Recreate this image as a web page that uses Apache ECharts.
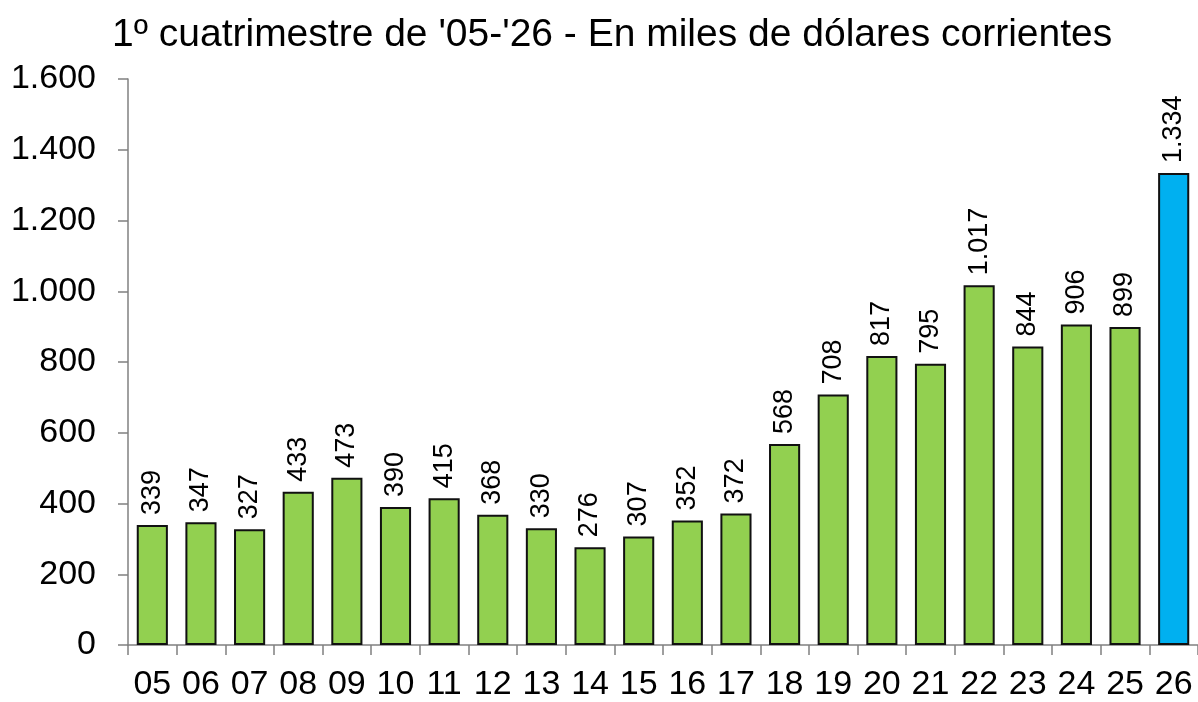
<!DOCTYPE html>
<html>
<head>
<meta charset="utf-8">
<script src="https://cdn.jsdelivr.net/npm/echarts@6/dist/echarts.min.js"></script>
<style>
  html, body { margin: 0; padding: 0; background: #fff; }
  #myChart { width: 1198px; height: 702px; }
</style>
</head>
<body>
<div id="myChart"></div>
<script>
// datos del 1º cuatrimestre
const years = ['05', '06', '07', '08', '09', '10', '11', '12', '13', '14', '15',
  '16', '17', '18', '19', '20', '21', '22', '23', '24', '25', '26']
const values = [339, 347, 327, 433, 473, 390, 415, 368, 330, 276, 307,
  352, 372, 568, 708, 817, 795, 1017, 844, 906, 899, 1334]
const highlightYear = '26'

function fmt (v) {
  return String(v).replace(/\B(?=(\d{3})+(?!\d))/g, '.')
}

const font = 'Liberation Sans, Arial, sans-serif'

let myChart = echarts.init(document.getElementById('myChart'))
myChart.setOption({
  animation: false,
  title: {
    text: "1º cuatrimestre de '05-'26 - En miles de dólares corrientes",
    left: 107,
    top: 11,
    textStyle: { fontFamily: font, fontSize: 39, fontWeight: 'normal', color: '#000' }
  },
  grid: { left: 128, right: 0, top: 79, bottom: 57, containLabel: false, outerBoundsMode: 'none' },
  xAxis: {
    type: 'category',
    data: years,
    axisLine: { lineStyle: { color: '#808080', width: 1.5 } },
    axisTick: { show: true, length: 10, alignWithLabel: false, lineStyle: { color: '#808080', width: 1.5 } },
    axisLabel: { fontFamily: font, fontSize: 34, color: '#000', margin: 23, interval: 0 }
  },
  yAxis: {
    type: 'value',
    min: 0,
    max: 1600,
    interval: 200,
    splitLine: { show: false },
    axisLine: { show: true, lineStyle: { color: '#808080', width: 1.5 } },
    axisTick: { show: true, length: 10, lineStyle: { color: '#808080', width: 1.5 } },
    axisLabel: {
      fontFamily: font, fontSize: 34, color: '#000', margin: 32,
      formatter: function (v) { return fmt(v) }
    }
  },
  series: [
    {
      type: 'bar',
      barWidth: '64%',
      data: values.map((v, i) => ({
        value: v,
        itemStyle: { color: years[i] === highlightYear ? '#00B0F0' : '#92D050' }
      })),
      itemStyle: { borderColor: '#111', borderWidth: 2 },
      label: {
        show: true,
        position: 'top',
        rotate: 90,
        align: 'left',
        verticalAlign: 'middle',
        distance: 10,
        fontFamily: font,
        fontSize: 27,
        color: '#000',
        formatter: function (p) { return fmt(p.value) }
      }
    }
  ]
})
</script>
</body>
</html>
